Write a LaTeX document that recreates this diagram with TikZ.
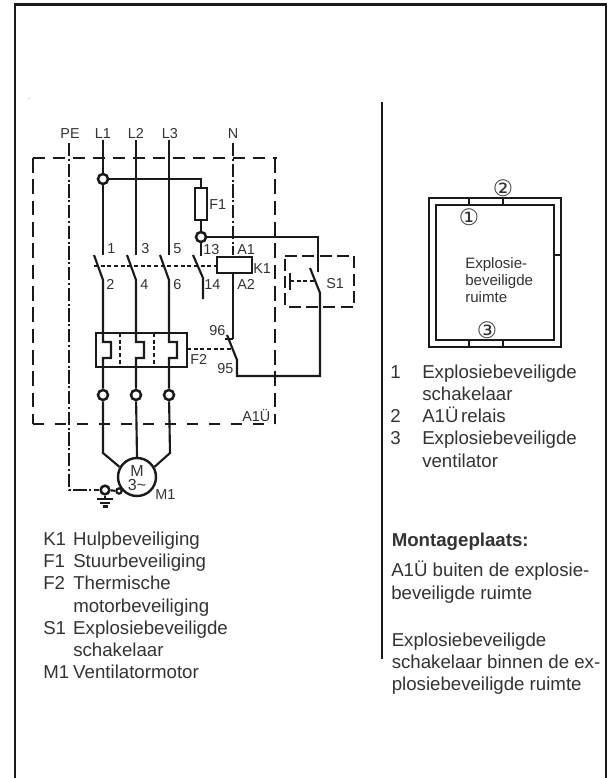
\documentclass[tikz,border=0pt]{standalone}
\usepackage{fontspec}
\setmainfont{Liberation Sans}
\newfontfamily\circfont{DejaVu Sans}
\definecolor{ink}{HTML}{1C1A18}
\definecolor{tx}{HTML}{333333}
\tikzset{
 frameline/.style={line width=1.7pt,draw=ink},
 wire/.style={line width=1.6pt,draw=ink,line join=miter},
 dot/.style={circle,draw=ink,line width=1.9pt,fill=white,inner sep=0pt,minimum size=7.5pt},
 lbl/.style={inner sep=0pt,font=\fontsize{10.8pt}{12pt}\selectfont,text=tx,anchor=base west},
 ctr/.style={lbl,anchor=base},
 topdash/.style={line width=1.9pt,draw=ink,dash pattern=on 9pt off 6pt},
 sidedash/.style={line width=1.2pt,draw=ink,dash pattern=on 11pt off 5pt},
 botdash/.style={line width=1.3pt,draw=ink,dash pattern=on 8.5pt off 8pt},
 s1dash/.style={line width=1.9pt,draw=ink,dash pattern=on 9pt off 4pt},
 smalldash/.style={line width=1.2pt,draw=ink,dash pattern=on 3pt off 2pt},
 pedash/.style={line width=1.6pt,draw=ink,dash pattern=on 10pt off 2pt on 1.5pt off 2pt},
 ndash/.style={line width=1.2pt,draw=ink,dash pattern=on 10pt off 2pt on 1.5pt off 2pt},
 txt/.style={inner sep=0pt,font=\fontsize{14pt}{16.7pt}\selectfont,text=tx,anchor=north west,align=left},
 circ/.style={inner sep=0pt,font=\circfont\fontsize{17pt}{17pt}\selectfont,text=tx},
}
\begin{document}
\begin{tikzpicture}[x=0.75pt,y=-0.75pt]
\useasboundingbox (0,0) rectangle (613,778);
\fill[white] (0,0) rectangle (613,778);
% frame and divider
\draw[frameline] (15,778)--(15,4.5)--(606,4.5)--(606,778);
\draw[frameline] (382,102)--(382,659);
\node[inner sep=0pt,font=\tiny,text=tx] at (29,99) {.};
% enclosure A1U
\draw[sidedash] (33,158)--(33,424);
\draw[sidedash] (275,158)--(275,424);
\draw[botdash] (33,424)--(275,424);
\draw[topdash] (33,158)--(277,158);
% supply labels and PE / N
\foreach \x/\t in {70/PE,103/L1,136/L2,170/L3,233/N}
 \node[ctr] at (\x,138) {\t};
\node[dot,minimum size=6.5pt] (pj) at (105,490) {};
\node[dot,minimum size=4pt,line width=1.6pt] (pk) at (119,491) {};
\coordinate (petop) at (69,143);
\coordinate (pecorner) at (69,490);
\draw[pedash] (petop)--(pecorner)--(pj);
\draw[wire] (pj)--(pk);
\draw[ndash] (233,143)--(233,255);
% ground
\coordinate (g0) at (105,499);
\draw[wire] (pj)--(g0);
\draw[line width=1.8pt,draw=ink] (97,499)--(113,499);
\draw[line width=1.8pt,draw=ink] (100,503)--(110,503);
\draw[line width=1.8pt,draw=ink] (102.5,506.5)--(107.5,506.5);
% phases
\node[dot] (j1) at (103,179) {};
\foreach \x/\n in {103/a,136/b,169/c}{
 \coordinate (t\n) at (\x,140);
 \coordinate (o\n) at (\x,255);
 \node[dot] (d\n) at (\x,395) {};
}
\draw[wire] (ta)--(j1)--(oa);
\draw[wire] (tb)--(ob);
\draw[wire] (tc)--(oc);
\foreach \x/\n in {103/a,136/b,169/c}{
 \draw[wire] (\x-9,255)--(\x,280)--(\x,342)--(\x+8,342)--(\x+8,358)--(\x,358)--(d\n);
}
% F1 branch
\node[draw=ink,line width=1.6pt,fill=white,minimum width=8.4pt,minimum height=24pt,inner sep=0pt] (f1) at (201,204) {};
\node[dot] (j2) at (201,237) {};
\draw[wire] (j1)--(201,179)--(f1.north);
\draw[wire] (f1.south)--(j2);
\draw[wire] (j2)--(201,256);
\draw[wire] (193,255)--(203,278)--(203,299);
% contact link and coil
\draw[smalldash] (94,266)--(217,266);
\node[draw=ink,line width=1.6pt,fill=white,minimum width=26pt,minimum height=12pt,inner sep=0pt] (k1) at (234.5,265) {};
\draw[wire] (k1.south -| 233,0)--(233,339);
\draw[wire] (225,339)--(233,339);
% S1
\draw[wire] (j2)--(318,237)--(318,272);
\draw[wire] (310,268)--(320,293)--(320,376)--(237,376)--(237,360)--(227,335);
\draw[line width=1.8pt,draw=ink] (290,273)--(290,290);
\draw[smalldash] (290,281)--(314,281);
\draw[s1dash] (285,256)--(354,256)--(354,307)--(285,307)--cycle;
% F2
\draw[wire] (96,333) rectangle (187,367);
\foreach \x in {120,154}
 \draw[smalldash,line width=1.6pt] (\x,333)--(\x,367);
\draw[smalldash] (187,349)--(231,349);
% motor
\node[circle,draw=ink,line width=1.8pt,fill=white,minimum size=28.5pt,inner sep=0pt] (m) at (137,477) {};
\draw[wire] (da)--(103,453)--(m.150);
\draw[wire] (db)--(m.90);
\draw[wire] (dc)--(170,453)--(m.30);
\node[ctr,font=\fontsize{12pt}{12pt}\selectfont] at (137,476) {M};
\node[ctr,font=\fontsize{12pt}{12pt}\selectfont] at (137,490) {3\char"007E};
\node[lbl] at (155,499) {M1};
% diagram labels
\foreach \x/\t in {107/1,141/3,173/5} \node[lbl] at (\x,253) {\t};
\foreach \x/\t in {106/2,140/4,173/6} \node[lbl] at (\x,289) {\t};
\node[lbl] at (203,254) {13};
\node[lbl] at (237,254) {A1};
\node[lbl] at (253,273) {K1};
\node[lbl] at (204,289) {14};
\node[lbl] at (237,289) {A2};
\node[lbl] at (209,209) {F1};
\node[lbl] at (326,288) {S1};
\node[lbl] at (209,335) {96};
\node[lbl] at (217,373) {95};
\node[lbl] at (190,364) {F2};
\node[lbl] at (242,421) {A1Ü};
% left legend
\node[txt] at (43,531.5) {\makebox[22.5pt][l]{K1}Hulpbeveiliging\\\makebox[22.5pt][l]{F1}Stuurbeveiliging\\\makebox[22.5pt][l]{F2}Thermische\\\hspace*{22.5pt}motorbeveiliging\\\makebox[22.5pt][l]{S1}Explosiebeveiligde\\\hspace*{22.5pt}schakelaar\\\makebox[22.5pt][l]{M1}Ventilatormotor};
% plan
\draw[wire] (429,198) rectangle (561,347);
\draw[wire] (436,205) rectangle (554,340);
\foreach \x in {469,503}{\draw[wire] (\x,198)--(\x,205);\draw[wire] (\x,340)--(\x,347);}
\draw[wire] (554,255)--(561,255);
\node[circ] at (469,217) {①};
\node[circ] at (503,188) {②};
\node[circ] at (487,330) {③};
\node[inner sep=0pt,font=\fontsize{11.3pt}{12.8pt}\selectfont,text=tx,align=left,anchor=north west] at (465,257) {Explosie-\\beveiligde\\ruimte};
% right legend
\node[txt] at (390,364.4) {\makebox[24pt][l]{1}Explosiebeveiligde\\\hspace*{24pt}schakelaar\\\makebox[24pt][l]{2}A1Ü\hspace{2pt}relais\\\makebox[24pt][l]{3}Explosiebeveiligde\\\hspace*{24pt}ventilator};
\node[txt,font=\fontsize{14pt}{16.7pt}\selectfont\bfseries] at (391.5,532.4) {Montageplaats:};
\node[txt] at (391,561) {A1Ü buiten de explosie-\\beveiligde ruimte};
\node[txt] at (391.5,632.4) {Explosiebeveiligde\\schakelaar binnen de ex-\\plosiebeveiligde ruimte};
\end{tikzpicture}
\end{document}
